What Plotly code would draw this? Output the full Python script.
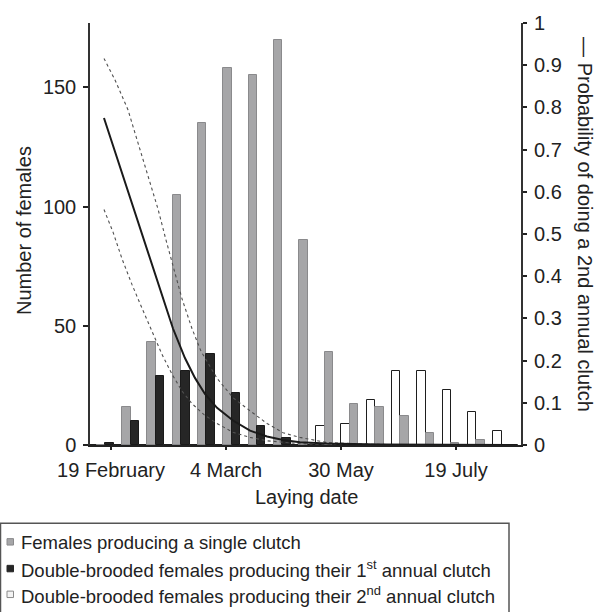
import plotly.graph_objects as go

# ---- data -------------------------------------------------------------
# laying-date classes (bar groups)
categories = list(range(17))
single_clutch = [0, 16, 43, 105, 135, 158, 155, 170, 86, 39, 17, 16, 12, 5, 1, 2, 0]
first_clutch = [1, 10, 29, 31, 38, 22, 8, 3, 0, 0, 0, 0, 0, 0, 0, 0, 0]
second_clutch = [0, 0, 0, 0, 0, 0, 0, 0, 0, 8, 9, 19, 31, 31, 23, 14, 6]

# date axis used by the probability curve
date_ticks = [0, 1, 2, 3]
date_labels = ["19 February", "4 March", "30 May", "19 July"]

# probability of a 2nd annual clutch (fit and confidence limits)
fit_x = [-0.061, 0.122, 0.296, 0.409, 0.539, 0.643, 0.730, 0.817, 0.922, 1.061,
         1.209, 1.357, 1.496, 1.643, 1.878, 2.339, 2.948, 3.513]
fit_p = [0.775, 0.622, 0.481, 0.387, 0.276, 0.206, 0.159, 0.121, 0.088, 0.058,
         0.034, 0.020, 0.012, 0.0066, 0.0035, 0.0010, 0.0005, 0.0002]

upper_x = [-0.061, 0.035, 0.148, 0.235, 0.322, 0.409, 0.478, 0.530, 0.617, 0.704,
           0.783, 0.922, 1.061, 1.209, 1.357, 1.496, 1.643, 1.878, 2.165, 2.513, 3.513]
upper_p = [0.916, 0.865, 0.794, 0.716, 0.639, 0.559, 0.486, 0.434, 0.347, 0.276,
           0.222, 0.158, 0.112, 0.081, 0.051, 0.029, 0.018, 0.0059, 0.0024, 0.0007, 0.0001]

lower_x = [-0.061, 0.017, 0.096, 0.183, 0.270, 0.357, 0.443, 0.530, 0.617, 0.704,
           0.809, 0.922, 1.061, 1.209, 1.357, 1.643, 2.078, 3.513]
lower_p = [0.558, 0.505, 0.441, 0.380, 0.324, 0.269, 0.215, 0.168, 0.128, 0.098,
           0.072, 0.051, 0.030, 0.018, 0.010, 0.003, 0.0007, 0.0001]

legend_labels = [
    "Females producing a single clutch",
    "Double-brooded females producing their 1<sup>st</sup> annual clutch",
    "Double-brooded females producing their 2<sup>nd</sup> annual clutch",
]

# ---- styling ----------------------------------------------------------
W, H = 606, 612
ML, MR, MT, MB = 90, 85, 19, 167
PW, PH = W - ML - MR, H - MT - MB
FONT = "Liberation Sans, Arial, sans-serif"
INK = "#222222"

GRAY_FILL, GRAY_EDGE = "#a6a6a8", "#8a8a8c"
BLACK_FILL, BLACK_EDGE = "#262626", "#1a1a1a"
WHITE_FILL, WHITE_EDGE = "#ffffff", "#1e1e1e"


def px(x):
    return (x - ML) / PW


def py(y):
    return (MT + PH - y) / PH


fig = go.Figure()

# bars: white / gray / black inside each laying-date class
fig.add_trace(go.Bar(x=categories, y=second_clutch, name=legend_labels[2],
                     marker=dict(color=WHITE_FILL, line=dict(color=WHITE_EDGE, width=1)),
                     xaxis="x", yaxis="y", showlegend=False))
fig.add_trace(go.Bar(x=categories, y=single_clutch, name=legend_labels[0],
                     marker=dict(color=GRAY_FILL, line=dict(color=GRAY_EDGE, width=1)),
                     xaxis="x", yaxis="y", showlegend=False))
fig.add_trace(go.Bar(x=categories, y=first_clutch, name=legend_labels[1],
                     marker=dict(color=BLACK_FILL, line=dict(color=BLACK_EDGE, width=1)),
                     xaxis="x", yaxis="y", showlegend=False))

# probability curve with confidence limits
for xs, ys, dash, width, color in [
    (upper_x, upper_p, "dot", 1.1, "#505050"),
    (lower_x, lower_p, "dot", 1.1, "#505050"),
    (fit_x, fit_p, "solid", 2.0, "#1a1a1a"),
]:
    fig.add_trace(go.Scatter(x=xs, y=ys, mode="lines", xaxis="x2", yaxis="y2",
                             line=dict(color=color, width=width, dash=dash, shape="linear"),
                             showlegend=False, hoverinfo="skip"))

fig.update_layout(
    width=W, height=H,
    margin=dict(l=ML, r=MR, t=MT, b=MB, pad=0),
    paper_bgcolor="white", plot_bgcolor="white",
    font=dict(family=FONT, size=20, color=INK),
    barmode="group", bargap=0, bargroupgap=0,
    showlegend=False,
    xaxis=dict(range=[-0.437, 16.6], showticklabels=False, ticks="",
               showline=True, linecolor=INK, linewidth=2,
               showgrid=False, zeroline=False),
    xaxis2=dict(overlaying="x", anchor="y", side="bottom",
                range=[-0.1826, 3.5652], tickmode="array",
                tickvals=date_ticks, ticktext=date_labels,
                ticks="outside", ticklen=4, tickwidth=1.5, tickcolor=INK,
                ticklabelstandoff=3,
                showline=False, showgrid=False, zeroline=False),
    yaxis=dict(range=[0, 177], tickmode="array", tickvals=[0, 50, 100, 150],
               ticks="outside", ticklen=5, tickwidth=1.5, tickcolor=INK,
               ticklabelstandoff=3,
               showline=True, linecolor="#333333", linewidth=1.5,
               showgrid=False, zeroline=False),
    yaxis2=dict(overlaying="y", anchor="x", side="right", range=[0, 1],
                tick0=0, dtick=0.1,
                ticks="outside", ticklen=4, tickwidth=1.5, tickcolor=INK,
                ticklabelstandoff=3,
                showline=True, linecolor="#333333", linewidth=2,
                showgrid=False, zeroline=False),
)

annotations = [
    dict(text="Number of females", x=px(24), y=py(229), textangle=-90),
    dict(text="— Probability of doing a 2nd annual clutch", x=px(585), y=py(222), textangle=90),
    dict(text="Laying date", x=px(306), y=py(497)),
]
for a in annotations:
    a.update(xref="paper", yref="paper", showarrow=False,
             xanchor="center", yanchor="middle", font=dict(size=20, color=INK, family=FONT))

# legend box drawn below the axes
shapes = [dict(type="rect", xref="paper", yref="paper",
               x0=px(0.5), x1=px(509), y0=py(524), y1=py(616),
               line=dict(color="#555555", width=1.5), fillcolor="rgba(0,0,0,0)")]
row_centers = [543, 570, 596]
swatches = [(GRAY_FILL, "#8a8a8c"), (BLACK_FILL, BLACK_FILL), ("#f4f4f4", "#8a8a8a")]
for yc, (fill, edge), label in zip(row_centers, swatches, legend_labels):
    shapes.append(dict(type="rect", xref="paper", yref="paper",
                       x0=px(7), x1=px(13.5), y0=py(yc - 3.5), y1=py(yc + 3),
                       line=dict(color=edge, width=1), fillcolor=fill))
    annotations.append(dict(text=label, x=px(19), y=py(yc), xref="paper", yref="paper",
                            xanchor="left", yanchor="middle", showarrow=False,
                            font=dict(size=18.5, color=INK, family=FONT)))

fig.update_layout(annotations=annotations, shapes=shapes)

fig.write_html("out.html")
